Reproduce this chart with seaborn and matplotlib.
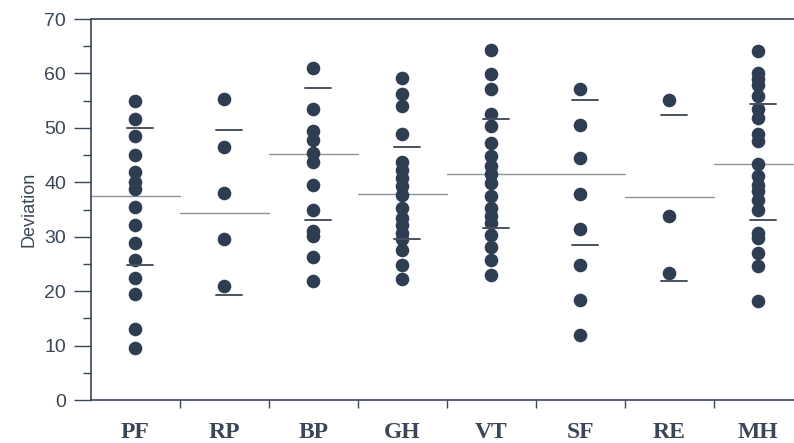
import numpy as np
import pandas as pd
import seaborn as sns
from matplotlib import pyplot as plt
from matplotlib.ticker import MultipleLocator, FixedLocator, NullFormatter

# scale names in plot order
scales = ['PF', 'RP', 'BP', 'GH', 'VT', 'SF', 'RE', 'MH']

# individual deviation values
pf = [54.9, 51.7, 48.5, 45.0, 41.9, 40.0, 38.8, 35.5, 32.1, 28.9, 25.8, 22.5, 19.4, 13.1, 9.5]
rp = [55.4, 46.5, 38.0, 29.5, 20.9]
bp = [61.0, 53.4, 49.5, 47.8, 45.3, 43.7, 39.6, 35.0, 31.0, 30.1, 26.2, 21.8]
gh = [59.1, 56.3, 54.0, 48.9, 43.8, 42.2, 40.8, 39.3, 37.6, 35.2, 33.4, 32.2, 30.6, 29.5,
      27.6, 24.9, 22.2]
vt = [64.3, 59.9, 57.1, 52.5, 50.3, 47.3, 44.9, 43.0, 41.5, 39.9, 37.4, 35.2, 33.8, 32.5,
      30.4, 28.2, 25.8, 23.0]
sf = [57.2, 50.6, 44.5, 37.9, 31.5, 24.9, 18.4, 12.0]
re = [55.2, 33.9, 23.4]
mh = [64.1, 60.0, 58.9, 57.8, 55.9, 53.4, 51.9, 48.8, 47.6, 43.4, 41.1, 39.6, 38.4, 36.8,
      35.0, 30.7, 29.8, 27.0, 24.6, 18.2]

# mean and mean +/- SD markers
means = [37.5, 34.3, 45.2, 37.8, 41.6, 41.6, 37.3, 43.4]
sd_hi = [49.9, 49.6, 57.3, 46.4, 51.7, 55.2, 52.4, 54.3]
sd_lo = [24.8, 19.3, 33.1, 29.6, 31.6, 28.4, 21.8, 33.0]

values = [pf, rp, bp, gh, vt, sf, re, mh]
df = pd.DataFrame({
    'scale': [s for s, v in zip(scales, values) for _ in v],
    'deviation': [x for v in values for x in v],
})

sns.set_style('white')
plt.rcParams['font.family'] = ['Liberation Sans', 'DejaVu Sans']

ink = '#3b4656'
fig = plt.figure(figsize=(7.94, 4.43), dpi=100)
ax = fig.add_axes([0.1146, 0.097, 0.8854, 0.86])

sns.stripplot(data=df, x='scale', y='deviation', order=scales, jitter=False,
              color='#2e3d52', size=9.8, linewidth=0, ax=ax, zorder=3)

for i in range(len(scales)):
    ax.plot([i - 0.5, i + 0.5], [means[i], means[i]], color='#8c939c', lw=1.0, zorder=2)
    ax.plot([i - 0.1, i + 0.2], [sd_hi[i], sd_hi[i]], color='#4a5260', lw=1.4, zorder=4)
    ax.plot([i - 0.1, i + 0.2], [sd_lo[i], sd_lo[i]], color='#4a5260', lw=1.4, zorder=4)

ax.set_xlim(-0.5, 7.4)
ax.set_ylim(0, 70)

# category labels at centres, tick marks at the boundaries
ax.xaxis.set_major_locator(FixedLocator(np.arange(0.5, 7.5, 1.0)))
ax.xaxis.set_major_formatter(NullFormatter())
ax.set_xticks(np.arange(len(scales)), labels=scales, minor=True)
ax.tick_params(axis='x', which='major', direction='out', length=6, width=1, color=ink, bottom=True)
ax.tick_params(axis='x', which='minor', length=0, pad=16, bottom=True)
for lab in ax.get_xticklabels(minor=True):
    lab.set_fontfamily('Liberation Serif')
    lab.set_fontweight('bold')
    lab.set_fontsize(17)
    lab.set_color(ink)

ax.yaxis.set_major_locator(MultipleLocator(10))
ax.yaxis.set_minor_locator(MultipleLocator(5))
ax.tick_params(axis='y', which='major', direction='out', length=12, width=1, color=ink,
               labelsize=14, labelcolor=ink, left=True, pad=6)
ax.tick_params(axis='y', which='minor', direction='out', length=6, width=1, color=ink, left=True)

ax.set_xlabel('')
ax.set_ylabel('Deviation', fontsize=13, color=ink, labelpad=5)

for side in ['left', 'bottom', 'top']:
    ax.spines[side].set_color(ink)
    ax.spines[side].set_linewidth(1.2)
ax.spines['right'].set_visible(False)

fig.savefig('out.png', dpi=100)
